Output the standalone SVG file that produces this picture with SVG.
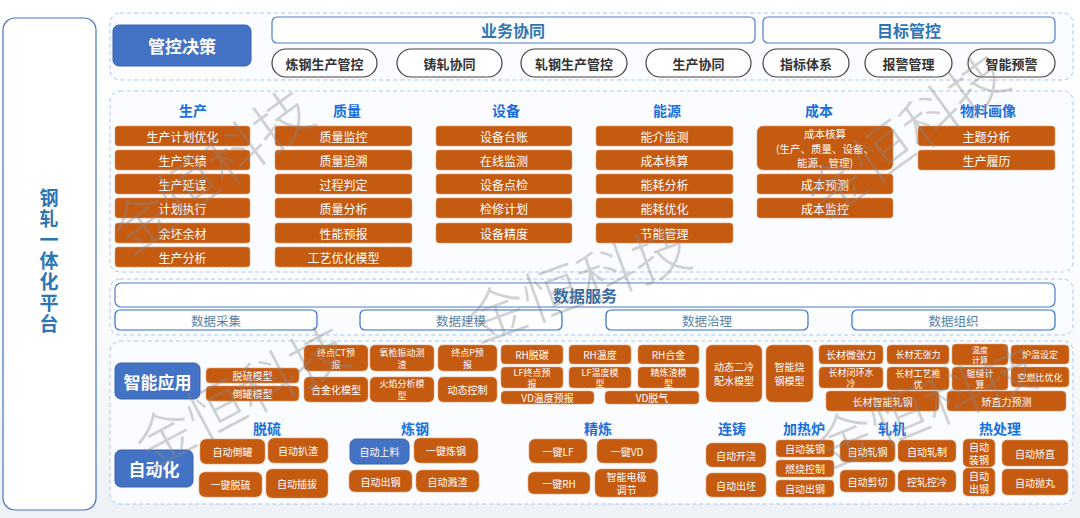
<svg xmlns="http://www.w3.org/2000/svg" width="1080" height="518" viewBox="0 0 1080 518">
<defs>
<linearGradient id="bg" x1="0" y1="0" x2="0" y2="1">
<stop offset="0" stop-color="#ffffff"/><stop offset="0.6" stop-color="#fbfcfd"/><stop offset="1" stop-color="#eef1f5"/>
</linearGradient>
</defs>
<style>
text{font-family:"Noto Sans CJK SC","Noto Sans",sans-serif;text-anchor:middle;dominant-baseline:central}
.sec{fill:#fafcff;stroke:#a9c6ea;stroke-width:1;stroke-dasharray:4 3}
.blue{fill:#4472c4;stroke:#3a62a8;stroke-width:1}
.bt{fill:#fff;font-weight:bold;font-size:17px}
.hdr{fill:#fff;stroke:#4f7fc8;stroke-width:1.2}
.ht{fill:#2e75b6;font-weight:bold;font-size:16px}
.pill{fill:#fff;stroke:#404040;stroke-width:1.2}
.pt{fill:#333;font-weight:bold;font-size:13px}
.col{fill:#1a6fdf;font-weight:bold;font-size:14px}
.or{fill:#c55a11;stroke:#e0a070;stroke-width:0.6}
.ot{fill:#fff;font-size:12px}
.oc{fill:#fff;font-size:10.5px}
.os{fill:#fff;font-size:10px}
.o2{fill:#fff;font-size:9px}
.ds{fill:#fff;stroke:#2f6fd6;stroke-width:1.2}
.dt{fill:#5a7fa8;font-size:12.5px}
.wm{fill:#8a8a8a;opacity:0.38;font-size:58px;font-family:"Noto Sans CJK SC",sans-serif;font-weight:300}
</style>
<rect x="0" y="0" width="1080" height="518" fill="url(#bg)"/>

<g id="platform">
<rect x="3" y="18" width="93" height="492" rx="12" fill="#fff" stroke="#4472c4" stroke-width="1.2"/>
<text x="49" y="262" style="font-size:19px;font-weight:bold;fill:#2e75b6;writing-mode:vertical-rl;text-orientation:upright;letter-spacing:2px">钢轧一体化平台</text>
</g>

<g id="sections">
<rect class="sec" x="110" y="13" width="963" height="67" rx="10"/>
<rect class="sec" x="110" y="91" width="963" height="181" rx="10"/>
<rect class="sec" x="110" y="279" width="963" height="56" rx="10"/>
<rect class="sec" x="110" y="341" width="963" height="163" rx="10"/>
</g>

<g id="decision">
<rect class="blue" x="113" y="25" width="138" height="41" rx="6"/>
<text class="bt" x="182" y="45.5">管控决策</text>
</g>
<g id="biz">
<rect class="hdr" x="272" y="17" width="483" height="26" rx="5"/>
<text class="ht" x="513" y="30">业务协同</text>
</g>
<g id="target">
<rect class="hdr" x="763" y="17" width="292" height="26" rx="5"/>
<text class="ht" x="909" y="30">目标管控</text>
</g>
<g id="pills">
<rect class="pill" x="272" y="49" width="105" height="28" rx="14"/><text class="pt" x="324.5" y="63">炼钢生产管控</text>
<rect class="pill" x="397" y="49" width="105" height="28" rx="14"/><text class="pt" x="449.5" y="63">铸轧协同</text>
<rect class="pill" x="521" y="49" width="106" height="28" rx="14"/><text class="pt" x="574" y="63">轧钢生产管控</text>
<rect class="pill" x="646" y="49" width="105" height="28" rx="14"/><text class="pt" x="698.5" y="63">生产协同</text>
<rect class="pill" x="763" y="49" width="86" height="28" rx="14"/><text class="pt" x="806" y="63">指标体系</text>
<rect class="pill" x="865" y="49" width="87" height="28" rx="14"/><text class="pt" x="908.5" y="63">报警管理</text>
<rect class="pill" x="968" y="49" width="87" height="28" rx="14"/><text class="pt" x="1011.5" y="63">智能预警</text>
</g>

<g id="production">
<text class="col" x="193" y="110">生产</text>
<rect class="or" x="115" y="126" width="135" height="20" rx="3"/><text class="ot" x="182.5" y="136">生产计划优化</text>
<rect class="or" x="115" y="150" width="135" height="20" rx="3"/><text class="ot" x="182.5" y="160">生产实绩</text>
<rect class="or" x="115" y="174" width="135" height="20" rx="3"/><text class="ot" x="182.5" y="184">生产延误</text>
<rect class="or" x="115" y="198" width="135" height="20" rx="3"/><text class="ot" x="182.5" y="208">计划执行</text>
<rect class="or" x="115" y="223" width="135" height="20" rx="3"/><text class="ot" x="182.5" y="233">余坯余材</text>
<rect class="or" x="115" y="247" width="135" height="20" rx="3"/><text class="ot" x="182.5" y="257">生产分析</text>
</g>
<g id="quality">
<text class="col" x="347" y="110">质量</text>
<rect class="or" x="275" y="126" width="137" height="20" rx="3"/><text class="ot" x="343.5" y="136">质量监控</text>
<rect class="or" x="275" y="150" width="137" height="20" rx="3"/><text class="ot" x="343.5" y="160">质量追溯</text>
<rect class="or" x="275" y="174" width="137" height="20" rx="3"/><text class="ot" x="343.5" y="184">过程判定</text>
<rect class="or" x="275" y="198" width="137" height="20" rx="3"/><text class="ot" x="343.5" y="208">质量分析</text>
<rect class="or" x="275" y="223" width="137" height="20" rx="3"/><text class="ot" x="343.5" y="233">性能预报</text>
<rect class="or" x="275" y="247" width="137" height="20" rx="3"/><text class="ot" x="343.5" y="257">工艺优化模型</text>
</g>
<g id="equipment">
<text class="col" x="506" y="110">设备</text>
<rect class="or" x="436" y="126" width="136" height="20" rx="3"/><text class="ot" x="504" y="136">设备台账</text>
<rect class="or" x="436" y="150" width="136" height="20" rx="3"/><text class="ot" x="504" y="160">在线监测</text>
<rect class="or" x="436" y="174" width="136" height="20" rx="3"/><text class="ot" x="504" y="184">设备点检</text>
<rect class="or" x="436" y="198" width="136" height="20" rx="3"/><text class="ot" x="504" y="208">检修计划</text>
<rect class="or" x="436" y="223" width="136" height="20" rx="3"/><text class="ot" x="504" y="233">设备精度</text>
</g>
<g id="energy">
<text class="col" x="667" y="110">能源</text>
<rect class="or" x="596" y="126" width="137" height="20" rx="3"/><text class="ot" x="664.5" y="136">能介监测</text>
<rect class="or" x="596" y="150" width="137" height="20" rx="3"/><text class="ot" x="664.5" y="160">成本核算</text>
<rect class="or" x="596" y="174" width="137" height="20" rx="3"/><text class="ot" x="664.5" y="184">能耗分析</text>
<rect class="or" x="596" y="198" width="137" height="20" rx="3"/><text class="ot" x="664.5" y="208">能耗优化</text>
<rect class="or" x="596" y="223" width="137" height="20" rx="3"/><text class="ot" x="664.5" y="233">节能管理</text>
</g>
<g id="cost">
<text class="col" x="819" y="110">成本</text>
<rect class="or" x="757" y="126" width="136" height="44" rx="6"/>
<text class="oc" x="825" y="133.5">成本核算</text>
<text class="oc" x="825" y="148">(生产、质量、设备、</text>
<text class="oc" x="825" y="162.5">能源、管理)</text>
<rect class="or" x="757" y="174" width="136" height="20" rx="3"/><text class="ot" x="825" y="184">成本预测</text>
<rect class="or" x="757" y="198" width="136" height="20" rx="3"/><text class="ot" x="825" y="208">成本监控</text>
</g>
<g id="material">
<text class="col" x="988" y="110">物料画像</text>
<rect class="or" x="918" y="126" width="137" height="20" rx="3"/><text class="ot" x="986.5" y="136">主题分析</text>
<rect class="or" x="918" y="150" width="137" height="20" rx="3"/><text class="ot" x="986.5" y="160">生产履历</text>
</g>

<g id="dataservice">
<rect class="hdr" x="115" y="283" width="940" height="24" rx="6"/>
<text x="585" y="295" style="font-size:16px;font-weight:bold;fill:#3a6aa0">数据服务</text>
<rect class="ds" x="115" y="310" width="202" height="20" rx="5"/><text class="dt" x="216" y="320">数据采集</text>
<rect class="ds" x="360" y="310" width="202" height="20" rx="5"/><text class="dt" x="461" y="320">数据建模</text>
<rect class="ds" x="606" y="310" width="202" height="20" rx="5"/><text class="dt" x="707" y="320">数据治理</text>
<rect class="ds" x="852" y="310" width="203" height="20" rx="5"/><text class="dt" x="953.5" y="320">数据组织</text>
</g>

<g id="smart">
<rect class="blue" x="115" y="363" width="85" height="36" rx="6"/>
<text class="bt" x="157.5" y="381">智能应用</text>
<rect class="or" x="206" y="368" width="93" height="15" rx="4"/><text class="os" x="252.5" y="375.5">脱硫模型</text>
<rect class="or" x="206" y="386" width="93" height="15" rx="4"/><text class="os" x="252.5" y="393.5">倒罐模型</text>
<rect class="or" x="304" y="345" width="64" height="26" rx="5"/><text class="o2" x="336" y="352">终点CT预</text><text class="o2" x="336" y="364">报</text>
<rect class="or" x="370" y="345" width="64" height="26" rx="5"/><text class="o2" x="402" y="352">氧枪振动测</text><text class="o2" x="402" y="364">渣</text>
<rect class="or" x="304" y="377" width="64" height="25" rx="5"/><text class="os" x="336" y="389.5">合金化模型</text>
<rect class="or" x="370" y="377" width="64" height="25" rx="5"/><text class="o2" x="402" y="383.5">火焰分析模</text><text class="o2" x="402" y="395.5">型</text>
<rect class="or" x="438" y="345" width="59" height="26" rx="5"/><text class="o2" x="467.5" y="352">终点P预</text><text class="o2" x="467.5" y="364">报</text>
<rect class="or" x="438" y="377" width="59" height="25" rx="5"/><text class="os" x="467.5" y="389.5">动态控制</text>
<rect class="or" x="501" y="345" width="62" height="19" rx="4"/><text class="os" x="532" y="354.5">RH脱碳</text>
<rect class="or" x="569" y="345" width="62" height="19" rx="4"/><text class="os" x="600" y="354.5">RH温度</text>
<rect class="or" x="638" y="345" width="61" height="19" rx="4"/><text class="os" x="668.5" y="354.5">RH合金</text>
<rect class="or" x="501" y="367" width="62" height="21" rx="4"/><text class="o2" x="532" y="372">LF终点预</text><text class="o2" x="532" y="383">报</text>
<rect class="or" x="569" y="367" width="62" height="21" rx="4"/><text class="o2" x="600" y="372">LF温度模</text><text class="o2" x="600" y="383">型</text>
<rect class="or" x="638" y="367" width="61" height="21" rx="4"/><text class="o2" x="668.5" y="372">精炼渣模</text><text class="o2" x="668.5" y="383">型</text>
<rect class="or" x="501" y="391" width="93" height="13" rx="4"/><text class="os" x="547.5" y="397.5">VD温度预报</text>
<rect class="or" x="605" y="391" width="94" height="13" rx="4"/><text class="os" x="652" y="397.5">VD脱气</text>
<rect class="or" x="706" y="345" width="56" height="57" rx="6"/><text class="os" x="734" y="366">动态二冷</text><text class="os" x="734" y="380">配水模型</text>
<rect class="or" x="766" y="345" width="47" height="57" rx="6"/><text class="os" x="789.5" y="366">智能烧</text><text class="os" x="789.5" y="380">钢模型</text>
<rect class="or" x="819" y="345" width="64" height="19" rx="4"/><text class="os" x="851" y="354.5">长材微张力</text>
<rect class="or" x="887" y="345" width="62" height="19" rx="4"/><text class="o2" x="918" y="354.5">长材无张力</text>
<rect class="or" x="952" y="344" width="56" height="21" rx="4"/><text class="o2" x="980" y="349.5" style="font-size:8px">温度</text><text class="o2" x="980" y="359.5" style="font-size:8px">计算</text>
<rect class="or" x="1011" y="345" width="58" height="19" rx="4"/><text class="o2" x="1040" y="354.5">炉温设定</text>
<rect class="or" x="819" y="367" width="64" height="21" rx="4"/><text class="o2" x="851" y="372">长材闭环水</text><text class="o2" x="851" y="383">冷</text>
<rect class="or" x="887" y="367" width="62" height="23" rx="4"/><text class="o2" x="918" y="373">长材工艺推</text><text class="o2" x="918" y="384.5">优</text>
<rect class="or" x="952" y="367" width="56" height="23" rx="4"/><text class="o2" x="980" y="373">辊缝计</text><text class="o2" x="980" y="384.5">算</text>
<rect class="or" x="1011" y="367" width="58" height="20" rx="4"/><text class="o2" x="1040" y="377">空燃比优化</text>
<rect class="or" x="826" y="391" width="113" height="20" rx="4"/><text class="os" x="882.5" y="401">长材智能轧钢</text>
<rect class="or" x="947" y="391" width="119" height="20" rx="4"/><text class="os" x="1006.5" y="401">矫直力预测</text>
</g>

<g id="automation">
<rect class="blue" x="115" y="450" width="78" height="37" rx="6"/>
<text class="bt" x="154" y="468.5">自动化</text>
<text class="col" x="267" y="428">脱硫</text>
<rect class="or" x="200" y="439" width="65" height="25" rx="6"/><text class="os" x="232.5" y="451.5">自动倒罐</text>
<rect class="or" x="268" y="438" width="60" height="25" rx="6"/><text class="os" x="298" y="450.5">自动扒渣</text>
<rect class="or" x="199" y="472" width="63" height="25" rx="6"/><text class="os" x="230.5" y="484.5">一键脱硫</text>
<rect class="or" x="266" y="469" width="62" height="29" rx="6"/><text class="os" x="297" y="483.5">自动插拔</text>
<text class="col" x="415" y="428">炼钢</text>
<rect class="blue" x="350" y="439" width="59" height="25" rx="6"/><text class="os" x="379.5" y="451.5">自动上料</text>
<rect class="or" x="414" y="438" width="64" height="25" rx="6"/><text class="os" x="446" y="450.5">一键炼钢</text>
<rect class="or" x="349" y="470" width="63" height="22" rx="6"/><text class="os" x="380.5" y="481">自动出钢</text>
<rect class="or" x="416" y="470" width="63" height="22" rx="6"/><text class="os" x="447.5" y="481">自动溅渣</text>
<text class="col" x="598" y="428">精炼</text>
<rect class="or" x="529" y="439" width="58" height="24" rx="6"/><text class="os" x="558" y="451">一键LF</text>
<rect class="or" x="597" y="439" width="60" height="24" rx="6"/><text class="os" x="627" y="451">一键VD</text>
<rect class="or" x="528" y="472" width="62" height="22" rx="6"/><text class="os" x="559" y="483">一键RH</text>
<rect class="or" x="595" y="469" width="63" height="28" rx="6"/><text class="os" x="626.5" y="476.5">智能电极</text><text class="os" x="626.5" y="489.5">调节</text>
<text class="col" x="732" y="428">连铸</text>
<rect class="or" x="706" y="443" width="60" height="24" rx="6"/><text class="os" x="736" y="455">自动开浇</text>
<rect class="or" x="706" y="473" width="60" height="24" rx="6"/><text class="os" x="736" y="485">自动出坯</text>
<text class="col" x="804" y="428">加热炉</text>
<rect class="or" x="776" y="440" width="58" height="17" rx="4"/><text class="os" x="805" y="448.5">自动装钢</text>
<rect class="or" x="776" y="460" width="58" height="17" rx="4"/><text class="os" x="805" y="468.5">燃烧控制</text>
<rect class="or" x="776" y="480" width="58" height="17" rx="4"/><text class="os" x="805" y="488.5">自动出钢</text>
<text class="col" x="892" y="428">轧机</text>
<rect class="or" x="840" y="440" width="55" height="22" rx="5"/><text class="os" x="867.5" y="451">自动轧钢</text>
<rect class="or" x="898" y="440" width="58" height="22" rx="5"/><text class="os" x="927" y="451">自动轧制</text>
<rect class="or" x="840" y="470" width="55" height="22" rx="5"/><text class="os" x="867.5" y="481">自动剪切</text>
<rect class="or" x="898" y="470" width="58" height="22" rx="5"/><text class="os" x="927" y="481">控轧控冷</text>
<text class="col" x="1000" y="428">热处理</text>
<rect class="or" x="963" y="439" width="32" height="28" rx="5"/><text class="os" x="979" y="446.5">自动</text><text class="os" x="979" y="459.5">装钢</text>
<rect class="or" x="1002" y="440" width="66" height="26" rx="5"/><text class="os" x="1035" y="453">自动矫直</text>
<rect class="or" x="963" y="468" width="32" height="28" rx="5"/><text class="os" x="979" y="475.5">自动</text><text class="os" x="979" y="488.5">出钢</text>
<rect class="or" x="1002" y="469" width="66" height="26" rx="5"/><text class="os" x="1035" y="482">自动抛丸</text>
</g>

<g id="connectors"></g>

<g id="watermarks">
<text class="wm" transform="translate(210,168) rotate(-36)">金恒科技</text>
<text class="wm" transform="translate(578,280) rotate(-20)">金恒科技</text>
<text class="wm" transform="translate(905,132) rotate(-36)">金恒科技</text>
<text class="wm" transform="translate(240,393) rotate(-28)">金恒科技</text>
<text class="wm" transform="translate(925,403) rotate(-22)">金恒科技</text>
</g>
</svg>
